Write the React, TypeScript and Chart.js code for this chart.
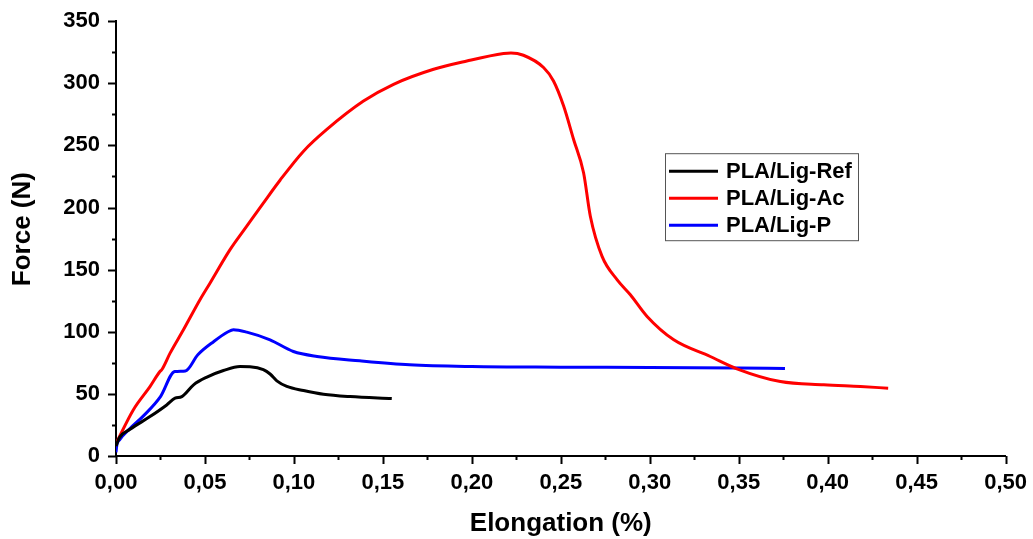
import React, { useEffect, useRef } from "react";
import { Chart, registerables } from "chart.js";

Chart.register(...registerables);

// ---- data ----
const refLabel = "PLA/Lig-Ref";
const refX = [0, 0.002, 0.0079, 0.0191, 0.0285, 0.0332, 0.037, 0.0436, 0.0511, 0.0604, 0.0697, 0.0753, 0.0828, 0.0866, 0.0904, 0.096, 0.1054, 0.1166, 0.1316, 0.155];
const refY = [8, 15, 21.5, 31.7, 41.1, 46.5, 47.8, 57.3, 63.5, 68.8, 72, 71.8, 69.5, 66, 60.5, 56, 52.7, 49.7, 47.8, 46.2];

const acLabel = "PLA/Lig-Ac";
const acX = [0, 0.0097, 0.0191, 0.0247, 0.0257, 0.0304, 0.0379, 0.0472, 0.0529, 0.0641, 0.0735, 0.0829, 0.0922, 0.1054, 0.1185, 0.1391, 0.156, 0.1785, 0.1972, 0.2178, 0.222, 0.229, 0.2403, 0.2459, 0.2516, 0.2572, 0.2628, 0.2666, 0.2732, 0.2816, 0.2891, 0.2985, 0.3135, 0.334, 0.349, 0.3734, 0.3978, 0.4184, 0.434];
const acY = [10, 37.1, 55.9, 68, 69.4, 82.8, 101.6, 125.8, 139.3, 166.1, 185, 203.8, 222, 245.4, 262.9, 285.7, 299.2, 311.3, 318, 324, 324.5, 322.6, 312.7, 301.9, 281.7, 254.8, 228, 193, 160.7, 142, 129.8, 112.3, 93.5, 80.1, 70.2, 59.9, 57.3, 55.9, 54.6];

const pLabel = "PLA/Lig-P";
const pX = [0, 0.0005, 0.002, 0.008, 0.015, 0.025, 0.033, 0.039, 0.046, 0.055, 0.063, 0.066, 0.0735, 0.0866, 0.0997, 0.113, 0.137, 0.165, 0.2, 0.25, 0.3, 0.35, 0.376];
const pY = [3, 9, 13, 22.3, 31.7, 47.8, 68, 68.5, 81.5, 92.2, 100, 101.6, 99.7, 93.5, 84.1, 80.1, 76.6, 73.4, 72, 71.5, 71.2, 70.8, 70.5];

const xMajorTicks = [0, 0.05, 0.1, 0.15, 0.2, 0.25, 0.3, 0.35, 0.4, 0.45, 0.5];
const xMinorTicks = [0.025, 0.075, 0.125, 0.175, 0.225, 0.275, 0.325, 0.375, 0.425, 0.475];
const yMajorTicks = [0, 50, 100, 150, 200, 250, 300, 350];
const yMinorTicks = [25, 75, 125, 175, 225, 275, 325];

const xTitle = "Elongation (%)";
const yTitle = "Force (N)";

const FONT = "'Liberation Sans', Arial, sans-serif";

const zip = (xs: number[], ys: number[]) => xs.map((x, i) => ({ x, y: ys[i] }));

const decorPlugin = {
  id: "decor",
  afterDraw(chart: any) {
    const ctx = chart.ctx;
    const xs = chart.scales.x;
    const ys = chart.scales.y;
    const { left, top, bottom } = chart.chartArea;
    ctx.save();
    ctx.strokeStyle = "#000";
    ctx.lineWidth = 2;
    ctx.beginPath();
    yMajorTicks.forEach((v) => {
      const py = Math.round(ys.getPixelForValue(v)) + 0.5;
      ctx.moveTo(left - 8, py);
      ctx.lineTo(left, py);
    });
    yMinorTicks.forEach((v) => {
      const py = Math.round(ys.getPixelForValue(v)) + 0.5;
      ctx.moveTo(left - 4, py);
      ctx.lineTo(left, py);
    });
    xMajorTicks.forEach((v) => {
      const px = Math.round(xs.getPixelForValue(v)) + 0.5;
      ctx.moveTo(px, bottom);
      ctx.lineTo(px, bottom + 8);
    });
    xMinorTicks.forEach((v) => {
      const px = Math.round(xs.getPixelForValue(v)) + 0.5;
      ctx.moveTo(px, bottom);
      ctx.lineTo(px, bottom + 4);
    });
    ctx.stroke();

    // y axis title
    ctx.save();
    ctx.translate(23, (top + bottom) / 2 - 9.5);
    ctx.rotate(-Math.PI / 2);
    ctx.font = `bold 26px ${FONT}`;
    ctx.fillStyle = "#000";
    ctx.textAlign = "center";
    ctx.textBaseline = "middle";
    ctx.fillText(yTitle, 0, 0);
    ctx.restore();

    // legend box
    const lx = left + 549;
    const ly = top + 132;
    const lw = 193;
    const lh = 87;
    ctx.strokeStyle = "#555";
    ctx.lineWidth = 1;
    ctx.strokeRect(lx + 0.5, ly + 0.5, lw, lh);
    ctx.font = `bold 22px ${FONT}`;
    ctx.textAlign = "left";
    ctx.textBaseline = "middle";
    chart.data.datasets.forEach((ds: any, i: number) => {
      const ry = ly + 18 + i * 27;
      ctx.strokeStyle = ds.borderColor;
      ctx.lineWidth = 3;
      ctx.beginPath();
      ctx.moveTo(lx + 4, ry);
      ctx.lineTo(lx + 53, ry);
      ctx.stroke();
      ctx.fillStyle = "#000";
      ctx.fillText(ds.label, lx + 61, ry + 1);
    });
    ctx.restore();
  },
};

export default function App() {
  const ref = useRef<HTMLCanvasElement | null>(null);
  useEffect(() => {
    if (!ref.current) return;
    const chart = new Chart(ref.current, {
      type: "line",
      data: {
        datasets: [
          { label: refLabel, data: zip(refX, refY), borderColor: "#000000", backgroundColor: "#000000" },
          { label: acLabel, data: zip(acX, acY), borderColor: "#ff0000", backgroundColor: "#ff0000" },
          { label: pLabel, data: zip(pX, pY), borderColor: "#0000ff", backgroundColor: "#0000ff" },
        ],
      },
      options: {
        responsive: false,
        animation: false,
        elements: {
          line: { borderWidth: 3, cubicInterpolationMode: "monotone", borderJoinStyle: "round" },
          point: { radius: 0, hoverRadius: 0 },
        },
        layout: { padding: { top: 16, right: 23, left: 0, bottom: 0 } },
        plugins: {
          legend: { display: false },
          tooltip: { enabled: false },
          title: { display: false },
        },
        scales: {
          x: {
            type: "linear",
            min: 0,
            max: 0.5,
            afterFit: (s: any) => {
              s.height = 83;
            },
            afterBuildTicks: (s: any) => {
              s.ticks = xMajorTicks.map((v) => ({ value: v }));
            },
            grid: { display: false },
            border: { display: true, color: "#000", width: 2 },
            ticks: {
              autoSkip: false,
              maxRotation: 0,
              padding: 6,
              color: "#000",
              font: { family: FONT, size: 22, weight: "bold" },
              callback: (v: any) => Number(v).toFixed(2).replace(".", ","),
            },
            title: {
              display: true,
              text: xTitle,
              color: "#000",
              padding: { top: 0, bottom: 0 },
              font: { family: FONT, size: 26, weight: "bold" },
            },
          },
          y: {
            type: "linear",
            min: 0,
            max: 350,
            afterFit: (s: any) => {
              s.width = 116;
            },
            afterBuildTicks: (s: any) => {
              s.ticks = yMajorTicks.map((v) => ({ value: v }));
            },
            grid: { display: false },
            border: { display: true, color: "#000", width: 2 },
            ticks: {
              autoSkip: false,
              padding: 8,
              color: "#000",
              font: { family: FONT, size: 22, weight: "bold" },
              callback: (v: any) => String(v),
            },
          },
        },
      },
      plugins: [decorPlugin],
    } as any);
    return () => chart.destroy();
  }, []);
  return (
    <div style={{ position: "absolute", left: 0, top: 0, width: 1033, height: 539, background: "#fff" }}>
      <canvas ref={ref} width={1033} height={539} style={{ display: "block" }} />
    </div>
  );
}
